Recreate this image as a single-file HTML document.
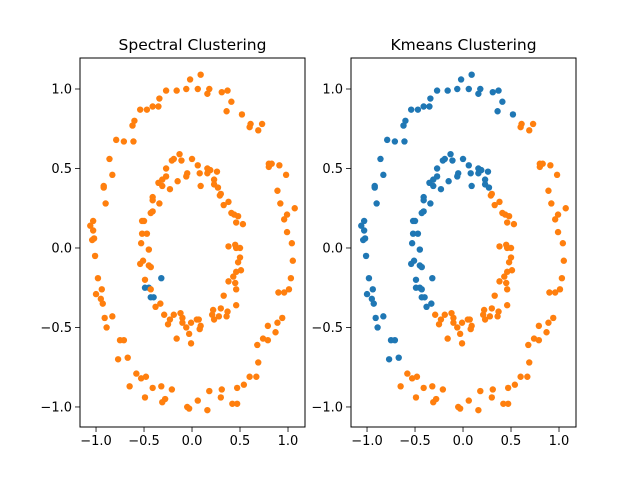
<!DOCTYPE html>
<html><head><meta charset="utf-8"><style>
body{margin:0;background:#fff}
svg{display:block;font-family:"DejaVu Sans","Liberation Sans",sans-serif}
</style></head><body>
<svg id="fig" width="640" height="480" viewBox="0 0 640 480"></svg>
<script>
// ring dataset (x, y)
const xs = [-0.02,0.09,-0.16,-0.06,-0.27,-0.34,-0.35,-0.41,-0.47,-0.54,-0.60,-0.62,-0.79,-0.71,-0.61,-0.86,-0.83,-0.92,-0.92,-0.90,-1.03,-1.06,-1.03,-1.02,-1.04,
0.06,0.18,0.16,0.31,0.37,0.41,0.36,0.52,0.61,0.60,0.73,0.69,0.80,0.83,0.80,0.91,0.98,0.89,0.92,1.07,0.99,0.96,0.99,1.04,
-1.01,-0.98,-0.94,-1.00,-0.95,-0.93,-0.91,-0.83,-0.89,-0.75,-0.71,-0.77,-0.67,-0.58,-0.53,-0.48,-0.65,-0.41,-0.32,-0.21,-0.49,-0.28,-0.31,-0.05,-0.03,
1.05,1.03,0.90,0.96,1.01,0.94,0.89,0.79,0.87,0.74,0.79,0.68,0.69,0.60,0.67,0.54,0.47,0.18,0.31,0.30,0.06,0.42,0.47,0.16,
-0.13,-0.19,-0.21,-0.11,0.00,-0.27,-0.05,-0.06,-0.27,-0.31,-0.35,-0.31,-0.15,-0.23,-0.41,-0.41,-0.34,-0.41,-0.43,-0.52,-0.50,-0.52,-0.47,-0.53,-0.45,
0.06,0.08,0.16,0.19,0.16,0.26,0.23,0.23,0.27,0.09,0.30,0.29,0.38,0.33,0.41,0.44,0.48,0.46,0.53,0.38,0.45,0.46,0.50,
-0.51,-0.54,-0.45,-0.43,-0.49,-0.32,-0.49,-0.45,-0.43,-0.43,-0.40,-0.33,-0.38,-0.29,-0.19,-0.12,-0.23,-0.25,-0.10,-0.10,-0.01,-0.06,-0.03,-0.16,-0.01,
0.50,0.48,0.46,0.51,0.43,0.38,0.45,0.46,0.33,0.46,0.30,0.22,0.21,0.37,0.36,0.28,0.23,0.05,0.07,0.09,0.08];
const ys = [1.06,1.09,0.99,1.00,0.99,0.94,0.89,0.89,0.87,0.87,0.80,0.77,0.68,0.67,0.67,0.56,0.46,0.39,0.38,0.28,0.17,0.14,0.11,0.06,0.05,
1.00,1.00,0.97,0.98,0.99,0.92,0.86,0.84,0.78,0.76,0.78,0.74,0.53,0.53,0.51,0.52,0.46,0.36,0.28,0.25,0.21,0.18,0.10,0.03,
-0.05,-0.19,-0.26,-0.29,-0.32,-0.35,-0.44,-0.43,-0.50,-0.58,-0.58,-0.70,-0.69,-0.79,-0.82,-0.81,-0.87,-0.88,-0.87,-0.89,-0.94,-0.95,-0.97,-1.00,-1.01,
-0.08,-0.19,-0.28,-0.28,-0.26,-0.44,-0.47,-0.49,-0.53,-0.57,-0.58,-0.61,-0.72,-0.81,-0.81,-0.86,-0.88,-0.90,-0.89,-0.94,-0.96,-0.98,-0.98,-1.02,
0.59,0.56,0.55,0.55,0.56,0.50,0.47,0.45,0.45,0.43,0.41,0.39,0.42,0.37,0.32,0.30,0.28,0.23,0.22,0.17,0.17,0.09,0.09,0.03,-0.01,
0.52,0.47,0.50,0.49,0.47,0.48,0.43,0.40,0.38,0.39,0.34,0.33,0.29,0.27,0.22,0.21,0.20,0.16,0.15,0.01,0.02,0.00,0.00,
-0.08,-0.10,-0.11,-0.12,-0.20,-0.19,-0.25,-0.25,-0.26,-0.31,-0.31,-0.35,-0.37,-0.42,-0.42,-0.41,-0.45,-0.48,-0.44,-0.47,-0.47,-0.50,-0.54,-0.57,-0.60,
-0.06,-0.09,-0.15,-0.14,-0.18,-0.21,-0.22,-0.26,-0.30,-0.36,-0.38,-0.39,-0.42,-0.40,-0.43,-0.43,-0.45,-0.45,-0.45,-0.49,-0.51];
// indices labelled cluster 0 (blue) by spectral clustering
const spectralBlue = [151,152,153,155,156];
// kmeans centroids: [blue, orange]
const centroidsX = [-0.39, 0.39];
const centroidsY = [0.30, -0.30];
const xTicks = [-1.0,-0.5,0.0,0.5,1.0];
const yTicks = [-1.0,-0.5,0.0,0.5,1.0];
const titles = ["Spectral Clustering","Kmeans Clustering"];
const COLORS = ["#1f77b4","#ff7f0e"];

const NS="http://www.w3.org/2000/svg";
const svg=document.getElementById('fig');
function mk(tag,attrs,parent){const e=document.createElementNS(NS,tag);for(const k in attrs)e.setAttribute(k,attrs[k]);(parent||svg).appendChild(e);return e;}

const panels=[{left:80,right:305,name:'spectral'},{left:351,right:576,name:'kmeans'}];
const axTop=58,axBottom=427;
const xmin=-1.167,xmax=1.177,ymin=-1.126,ymax=1.195;

function kmLabel(i){
  let best=0,bd=1e9;
  for(let c=0;c<centroidsX.length;c++){const d=(xs[i]-centroidsX[c])**2+(ys[i]-centroidsY[c])**2;if(d<bd){bd=d;best=c;}}
  return best;
}

panels.forEach((p,pi)=>{
  const sx=v=>p.left+(v-xmin)/(xmax-xmin)*(p.right-p.left);
  const sy=v=>axBottom-(v-ymin)/(ymax-ymin)*(axBottom-axTop);
  const g=mk('g',{});
  
  
  const t=mk('text',{x:(p.left+p.right)/2,y:50,'text-anchor':'middle','font-size':'15.5px',fill:'#000'},g);
  t.textContent=titles[pi];
  
  
  const pts=mk('g',{},g);
  
  
  for(let i=0;i<xs.length;i++){
    const lab = pi===0 ? (spectralBlue.includes(i)?0:1) : kmLabel(i);
    const c=mk('circle',{cx:sx(xs[i]),cy:sy(ys[i]),r:3.2,fill:COLORS[lab]},pts);
    
    
  }
  const fr=mk('rect',{x:p.left,y:axTop,width:p.right-p.left,height:axBottom-axTop,fill:'none',stroke:'#000','stroke-width':1},g);
  
  
  xTicks.forEach(v=>{
    const x=sx(v);
    const l=mk('line',{x1:x,x2:x,y1:axBottom,y2:axBottom+5,stroke:'#000','stroke-width':0.8},g);
    
    
    const tx=mk('text',{x:x,y:axBottom+18,'text-anchor':'middle','font-size':'13px'},g);
    tx.textContent=(v<0?'\u2212':'')+Math.abs(v).toFixed(1);
    
    
  });
  yTicks.forEach(v=>{
    const y=sy(v);
    const l=mk('line',{x1:p.left-5,x2:p.left,y1:y,y2:y,stroke:'#000','stroke-width':0.8},g);
    
    
    const ty=mk('text',{x:p.left-8,y:y+4.5,'text-anchor':'end','font-size':'13px'},g);
    ty.textContent=(v<0?'\u2212':'')+Math.abs(v).toFixed(1);
    
    
  });
});
</script>
</body></html>
